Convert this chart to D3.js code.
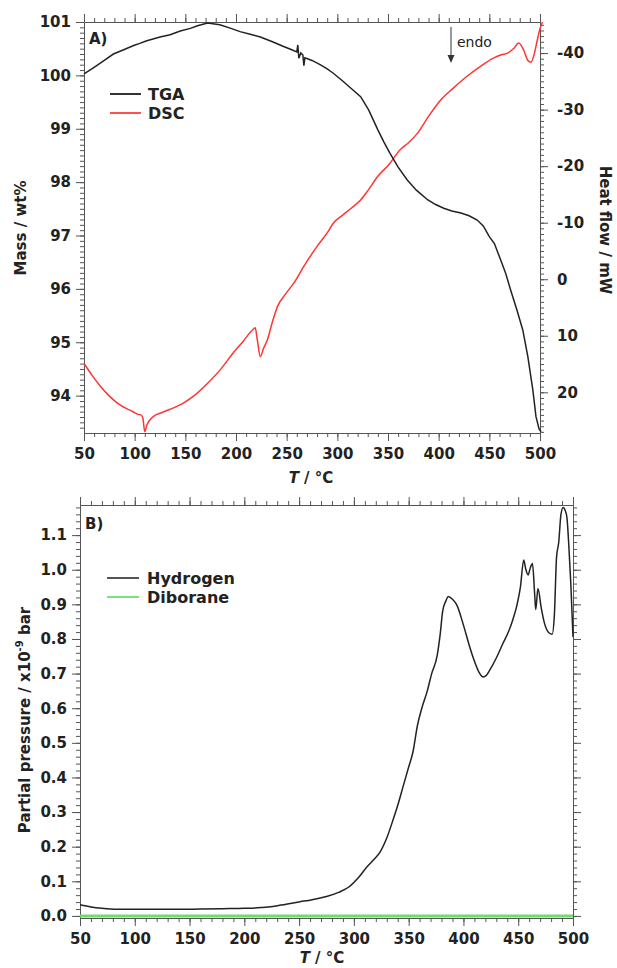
<!DOCTYPE html>
<html>
<head>
<script src="https://d3js.org/d3.v7.min.js"></script>
<style>
  body { margin: 0; background: #fff; }
  text { font-family: "DejaVu Sans", sans-serif; font-weight: bold; fill: #222; }
  .domain { stroke: #555; }
  .tick line { stroke: #555; }
</style>
</head>
<body>
<svg id="chart" width="617" height="968"></svg>
<script>
// ---- panel A: TGA (mass %) ----
const tgaT = [50,60,70,79,88,99,105,112,125,135,145,155,162,172,184,195,204,214,224,236,247,255,260,261,262,264,266,267,268,275,283,290,296,305,314,323,331,340,346,352,360,369,378,389,397,405,413,422,430,438,444,450,455,460,466,471,477,483,488,493,496,499,501];
const tgaMass = [100.03,100.15,100.28,100.4,100.47,100.56,100.6,100.65,100.72,100.76,100.83,100.88,100.93,100.98,100.95,100.88,100.82,100.77,100.72,100.63,100.54,100.48,100.44,100.57,100.32,100.42,100.38,100.18,100.33,100.28,100.2,100.12,100.04,99.9,99.75,99.6,99.35,98.98,98.75,98.54,98.28,98.04,97.85,97.67,97.58,97.51,97.46,97.42,97.37,97.29,97.18,96.98,96.85,96.6,96.3,95.98,95.62,95.23,94.73,94.1,93.61,93.38,93.32];

// ---- panel A: DSC (heat flow, mW) ----
const dscT = [50,58,66,74,83,92,98,103,106,108,110,112,115,120,125,135,148,160,172,185,197,207,217,219,221,224,227,231,236,241,249,257,268,280,290,296,305,314,323,331,340,351,362,370,379,390,402,415,428,441,454,462,468,474,479,484,488,491,494,497,500,502.5];
const dscHeat = [14.9,17.0,18.9,20.5,21.9,22.9,23.4,23.9,24.0,24.5,27.0,25.8,24.9,24.1,23.7,23.0,21.9,20.4,18.4,15.9,13.1,11.0,8.85,8.6,10.7,13.7,12.3,10.7,7.5,4.8,2.6,0.7,-2.6,-5.8,-8.2,-9.9,-11.3,-12.6,-14.0,-15.9,-18.2,-20.3,-22.9,-24.1,-25.8,-28.8,-31.7,-33.9,-35.9,-37.6,-39.1,-39.7,-40.0,-40.8,-41.8,-40.5,-38.7,-38.4,-39.6,-42.0,-44.3,-45.5];

// ---- panel B: partial pressures (x1e-9 bar) ----
const h2T = [50,60,70,84,100,120,140,160,180,200,215,226,238,251,262,275,286,296,304,312,318,324,330,336,341,345,350,354,358,362,367,371,376,379,381,384,386,390,394,400,405,409,414,418,421,424,430,436,441,445,449,452,455,457,459,461,463,465,466,468,471,474,478,481,483,485,487,489,491,493,494.5,496,498,500];
const h2P = [0.032,0.026,0.022,0.019,0.019,0.019,0.019,0.020,0.021,0.022,0.024,0.027,0.034,0.041,0.047,0.056,0.068,0.085,0.11,0.142,0.162,0.185,0.225,0.28,0.33,0.375,0.43,0.475,0.55,0.6,0.65,0.7,0.752,0.82,0.88,0.91,0.923,0.915,0.898,0.84,0.785,0.745,0.705,0.69,0.695,0.71,0.745,0.787,0.82,0.855,0.9,0.95,1.028,1.0,0.985,1.005,1.018,0.93,0.885,0.946,0.89,0.845,0.818,0.814,0.87,1.037,1.08,1.16,1.18,1.17,1.15,1.08,0.96,0.806];
const b2h6T = [50,150,250,350,450,500];
const b2h6P = [0,0,0,0,0,0];

const tempTicks = [50,100,150,200,250,300,350,400,450,500];
const massTicks = [94,95,96,97,98,99,100,101];
const heatTicks = [-40,-30,-20,-10,0,10,20];
const pressTicks = [0,0.1,0.2,0.3,0.4,0.5,0.6,0.7,0.8,0.9,1.0,1.1];

const svg = d3.select("#chart");

function drawAxis(g, axisFn, scale, major, minor, fmt, pad) {
  g.append("g").call(axisFn(scale).tickValues(minor).tickSize(4).tickSizeOuter(0).tickFormat(""));
  g.append("g").call(axisFn(scale).tickValues(major).tickSize(8).tickSizeOuter(0).tickPadding(pad).tickFormat(fmt));
  g.selectAll("text").style("font-size", "15px");
}
const noLabel = () => "";

// ================= Panel A =================
const ax = {left: 84, right: 540, top: 22, bottom: 433};
const xA = d3.scaleLinear().domain([50, 500]).range([ax.left, ax.right]);
const yMass = d3.scaleLinear().domain([93.3, 101]).range([ax.bottom, ax.top]);
const yHeat = d3.scaleLinear().domain([27.2, -45.5]).range([ax.bottom, ax.top]);

const tempMinor = d3.range(50, 501, 10);
drawAxis(svg.append("g").attr("transform", `translate(0,${ax.bottom})`), d3.axisBottom, xA, tempTicks, tempMinor, d3.format("d"), 7);
drawAxis(svg.append("g").attr("transform", `translate(0,${ax.top})`), d3.axisTop, xA, tempTicks, tempMinor, noLabel, 4);
drawAxis(svg.append("g").attr("transform", `translate(${ax.left},0)`), d3.axisLeft, yMass, massTicks,
  d3.range(934, 1011).map(d => d / 10), d3.format("d"), 5);
drawAxis(svg.append("g").attr("transform", `translate(${ax.right},0)`), d3.axisRight, yHeat, heatTicks,
  d3.range(-45, 28, 1), d => String(d), 9);

const tgaLine = d3.line().x((d, i) => xA(tgaT[i])).y(d => yMass(d));
const dscLine = d3.line().x((d, i) => xA(dscT[i])).y(d => yHeat(d)).curve(d3.curveMonotoneX);

svg.append("path").datum(dscHeat).attr("d", dscLine)
  .attr("fill", "none").attr("stroke", "#ff3434").attr("stroke-width", 1.5);
svg.append("path").datum(tgaMass).attr("d", tgaLine)
  .attr("fill", "none").attr("stroke", "#222").attr("stroke-width", 1.5);

svg.append("text").attr("x", 89).attr("y", 44).style("font-size", "15px").text("A)");

// legend A
const legA = [{name: "TGA", color: "#333", y: 94}, {name: "DSC", color: "#ff5050", y: 113}];
legA.forEach(d => {
  svg.append("line").attr("x1", 110).attr("x2", 141).attr("y1", d.y).attr("y2", d.y)
    .attr("stroke", d.color).attr("stroke-width", 2);
  svg.append("text").attr("x", 148).attr("y", d.y + 6).style("font-size", "16px").text(d.name);
});

// endo arrow
svg.append("line").attr("x1", 451).attr("x2", 451).attr("y1", 27).attr("y2", 60)
  .attr("stroke", "#333").attr("stroke-width", 1);
svg.append("path").attr("d", "M447.5,55 L451,63 L454.5,55 Z").attr("fill", "#333");
svg.append("text").attr("x", 457).attr("y", 47).style("font-size", "14px").style("font-weight", "normal").text("endo");

// axis titles A
svg.append("text").attr("transform", "translate(26,228) rotate(-90)").attr("text-anchor", "middle")
  .style("font-size", "15px").text("Mass / wt%");
svg.append("text").attr("transform", "translate(600,230) rotate(90)").attr("text-anchor", "middle")
  .style("font-size", "15px").text("Heat flow / mW");
const tA = svg.append("text").attr("x", 311).attr("y", 483).attr("text-anchor", "middle").style("font-size", "15px");
tA.append("tspan").style("font-style", "italic").text("T");
tA.append("tspan").text(" / °C");

// ================= Panel B =================
const bx = {left: 80, right: 573, top: 505, bottom: 918};
const xB = d3.scaleLinear().domain([50, 500]).range([bx.left, bx.right]);
const yP = d3.scaleLinear().domain([-0.006, 1.187]).range([bx.bottom, bx.top]);

const pressMinor = d3.range(0, 119, 2).map(d => d / 100);
drawAxis(svg.append("g").attr("transform", `translate(0,${bx.bottom})`), d3.axisBottom, xB, tempTicks, tempMinor, d3.format("d"), 7);
drawAxis(svg.append("g").attr("transform", `translate(0,${bx.top})`), d3.axisTop, xB, tempTicks, tempMinor, noLabel, 4);
drawAxis(svg.append("g").attr("transform", `translate(${bx.left},0)`), d3.axisLeft, yP, pressTicks, pressMinor, d3.format(".1f"), 5);
drawAxis(svg.append("g").attr("transform", `translate(${bx.right},0)`), d3.axisRight, yP, pressTicks, pressMinor, noLabel, 4);

const h2Line = d3.line().x((d, i) => xB(h2T[i])).y(d => yP(d)).curve(d3.curveMonotoneX);
const b2Line = d3.line().x((d, i) => xB(b2h6T[i])).y(d => yP(d));

svg.append("path").datum(b2h6P).attr("d", b2Line)
  .attr("fill", "none").attr("stroke", "#6fdc6a").attr("stroke-width", 3);
svg.append("path").datum(h2P).attr("d", h2Line)
  .attr("fill", "none").attr("stroke", "#222").attr("stroke-width", 1.5);

svg.append("text").attr("x", 85).attr("y", 529).style("font-size", "15px").text("B)");

const legB = [{name: "Hydrogen", color: "#555", y: 578}, {name: "Diborane", color: "#7be37a", y: 597}];
legB.forEach(d => {
  svg.append("line").attr("x1", 107).attr("x2", 139).attr("y1", d.y).attr("y2", d.y)
    .attr("stroke", d.color).attr("stroke-width", 2);
  svg.append("text").attr("x", 147).attr("y", d.y + 6).style("font-size", "16px").text(d.name);
});

const yTitle = svg.append("text").attr("transform", "translate(30,720) rotate(-90)").attr("text-anchor", "middle")
  .style("font-size", "15px");
yTitle.append("tspan").text("Partial pressure / x10");
yTitle.append("tspan").attr("dy", -7).style("font-size", "10px").text("-9");
yTitle.append("tspan").attr("dy", 7).text(" bar");

const tB = svg.append("text").attr("x", 322).attr("y", 963).attr("text-anchor", "middle").style("font-size", "15px");
tB.append("tspan").style("font-style", "italic").text("T");
tB.append("tspan").text(" / °C");
</script>
</body>
</html>
